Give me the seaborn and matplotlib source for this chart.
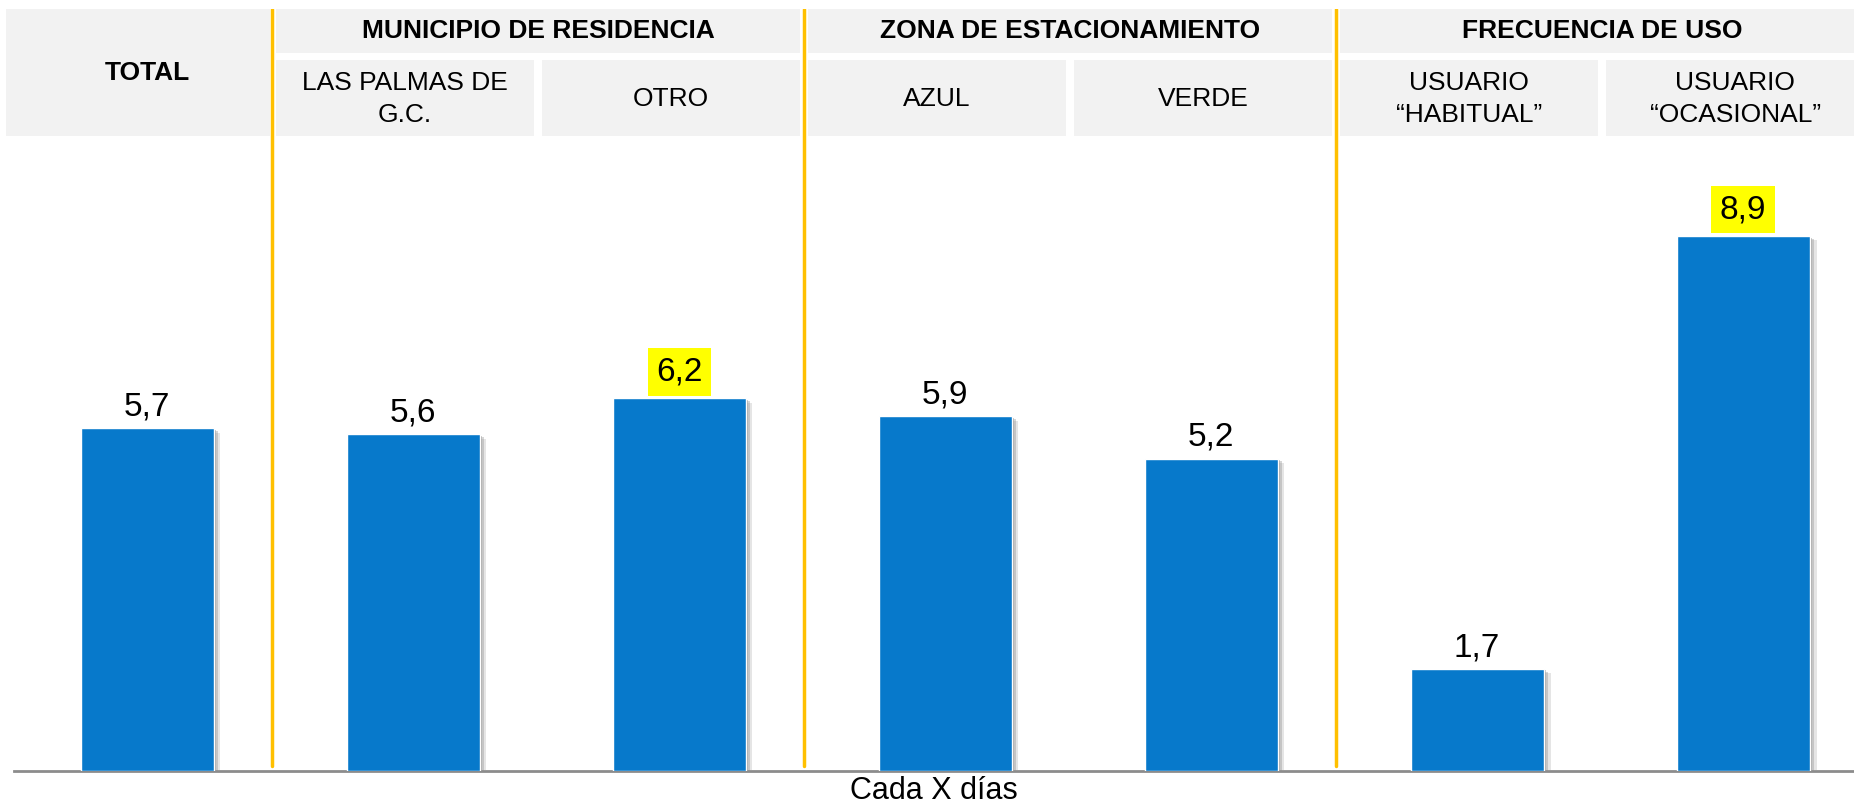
import matplotlib
matplotlib.use("Agg")
import matplotlib.pyplot as plt
import matplotlib.patheffects as pe
from matplotlib.patches import Rectangle
import seaborn as sns
import pandas as pd

# ---- data ----
categorias = ["TOTAL", "LAS PALMAS DE G.C.", "OTRO", "AZUL", "VERDE",
              "USUARIO “HABITUAL”", "USUARIO “OCASIONAL”"]
etiquetas_sub = ["TOTAL", "LAS PALMAS DE\nG.C.", "OTRO", "AZUL", "VERDE",
                 "USUARIO\n“HABITUAL”", "USUARIO\n“OCASIONAL”"]
valores = [5.7, 5.6, 6.2, 5.9, 5.2, 1.7, 8.9]
destacados = [False, False, True, False, False, False, True]
grupos = ["MUNICIPIO DE RESIDENCIA", "ZONA DE ESTACIONAMIENTO", "FRECUENCIA DE USO"]
grupo_indices = [(1, 2), (3, 4), (5, 6)]
eje_titulo = "Cada X días"

df = pd.DataFrame({"categoria": categorias, "valor": valores})

sns.set_style("white")
plt.rcParams["font.family"] = ["Liberation Sans", "DejaVu Sans"]
plt.rcParams["text.color"] = "black"
plt.rcParams["axes.labelcolor"] = "black"

W, H = 1854, 810
fig = plt.figure(figsize=(W / 100, H / 100), dpi=100)
ax = fig.add_axes([14 / W, 39 / H, 1840 / W, 762 / H])

BAR = "#0779CB"
sns.barplot(data=df, x="categoria", y="valor", order=categorias, color=BAR,
            width=0.5, saturation=1, ax=ax, zorder=3)
for p in ax.patches:
    p.set_path_effects([
        pe.SimplePatchShadow(offset=(5, -3), shadow_rgbFace="#9a9a9a", alpha=0.25),
        pe.SimplePatchShadow(offset=(3.5, -2), shadow_rgbFace="#8a8a8a", alpha=0.35),
        pe.SimplePatchShadow(offset=(2, -1), shadow_rgbFace="#7a7a7a", alpha=0.45),
        pe.Normal()])

ax.set_xlim(-0.5, 6.417)
ax.set_ylim(0, 12.68)
ax.set_xticks([])
ax.set_yticks([])
for s in ["left", "top", "right"]:
    ax.spines[s].set_visible(False)
ax.spines["bottom"].set_color("#8c8c8c")
ax.spines["bottom"].set_linewidth(2)
ax.set_ylabel("")
ax.set_xlabel(eje_titulo, fontsize=22, labelpad=3.5, color="black")

# value labels
for i, (v, d) in enumerate(zip(valores, destacados)):
    txt = f"{v:.1f}".replace(".", ",")
    if d:
        ax.annotate(txt, (i, v), xytext=(0, 8), textcoords="offset points",
                    ha="center", va="bottom", fontsize=24, zorder=6,
                    bbox=dict(boxstyle="square,pad=0.25", fc="#FFFF00", ec="none"))
    else:
        ax.annotate(txt, (i, v), xytext=(0, 4), textcoords="offset points",
                    ha="center", va="bottom", fontsize=24, zorder=6)

# header cells
tr = ax.get_xaxis_transform()
GRAY = "#F2F2F2"
def fy(py):
    return (771 - py) / 762

def cell(x0, x1, py0, py1):
    ax.add_patch(Rectangle((x0, fy(py1)), x1 - x0, fy(py0) - fy(py1), transform=tr,
                           facecolor=GRAY, edgecolor="none", clip_on=False, zorder=1))

# TOTAL cell spans both rows
cell(-0.53, 0.462, 9, 136)
ax.text(0, fy(73), etiquetas_sub[0], transform=tr, ha="center", va="center",
        fontsize=19, fontweight="bold", zorder=4)
for i in range(1, len(categorias)):
    cell(i - 0.515, i + 0.455, 60, 136)
    ax.text(i - 0.03, fy(99), etiquetas_sub[i], transform=tr, ha="center", va="center",
            fontsize=19, linespacing=1.4, zorder=4, clip_on=False)
for g, (a, b) in zip(grupos, grupo_indices):
    cell(a - 0.515, b + 0.455, 9, 53)
    ax.text((a + b) / 2 - 0.03, fy(31), g, transform=tr, ha="center", va="center",
            fontsize=19, fontweight="bold", zorder=4, clip_on=False)

# yellow separators
for a, _ in grupo_indices:
    ax.axvline(a - 0.53, ymin=5 / 762, ymax=1, color="#FFC000", lw=2.5, zorder=5)

fig.savefig("out.png", dpi=100)
